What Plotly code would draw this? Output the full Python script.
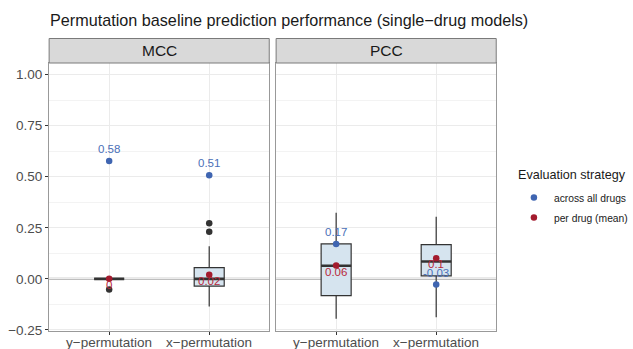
import plotly.graph_objects as go

# ---------------- data ----------------
metrics = ["MCC", "PCC"]
categories = ["y−permutation", "x−permutation"]
cat_pos = [1, 2]

# box statistics per metric (y-perm, x-perm)
box_q1 = {"MCC": [0.0, -0.035], "PCC": [-0.082, 0.015]}
box_median = {"MCC": [0.0, 0.0], "PCC": [0.064, 0.085]}
box_q3 = {"MCC": [0.0, 0.055], "PCC": [0.171, 0.168]}
box_lower = {"MCC": [0.0, -0.135], "PCC": [-0.195, -0.188]}
box_upper = {"MCC": [0.0, 0.16], "PCC": [0.324, 0.304]}

# outliers (category index, value)
outlier_cat = {"MCC": [1, 2, 2], "PCC": []}
outlier_val = {"MCC": [-0.052, 0.272, 0.231], "PCC": []}

# evaluation strategy points
across_vals = {"MCC": [0.576, 0.507], "PCC": [0.171, -0.028]}
across_labels = {"MCC": ["0.58", "0.51"], "PCC": ["0.17", "-0.03"]}
perdrug_vals = {"MCC": [0.0, 0.02], "PCC": [0.065, 0.101]}
perdrug_labels = {"MCC": ["0", "0.02"], "PCC": ["0.06", "0.1"]}

y_ticks = [-0.25, 0.0, 0.25, 0.5, 0.75, 1.0]
y_ticktext = ["−0.25", "0.00", "0.25", "0.50", "0.75", "1.00"]

# ---------------- style ----------------
W, H = 633, 349
FONT = "Liberation Sans, Arial, sans-serif"
BLUE = "#3f65b1"
RED = "#a31b2e"
BLUE_TXT = "#4a70b8"
RED_TXT = "#b8283a"
BOX_FILL = "#d6e4ef"
DARK = "#333333"
TICK_GREY = "#4d4d4d"

def px_x(p):
    return p / W

def px_y(p):
    return 1 - p / H

panels_x = [(50, 274), (281, 505)]
panel_top, panel_bot = 63, 331
strip_top = 38.5

fig = go.Figure()
box_half = 0.15

for k, m in enumerate(metrics):
    xa = "x" if k == 0 else "x2"
    ya = "y" if k == 0 else "y2"
    # zero reference line
    fig.add_shape(type="line", xref=xa + " domain", yref=ya, x0=0, x1=1, y0=0, y1=0,
                  line=dict(color="#a8a8a8", width=2), layer="below")
    fig.add_trace(go.Box(
        x=cat_pos, q1=box_q1[m], median=box_median[m], q3=box_q3[m],
        lowerfence=box_lower[m], upperfence=box_upper[m],
        width=0.3, whiskerwidth=0, boxpoints=False,
        fillcolor=BOX_FILL, line=dict(color=DARK, width=1.2),
        xaxis=xa, yaxis=ya, showlegend=False, hoverinfo="skip"))
    # thick median lines
    mx, my = [], []
    for i, v in enumerate(box_median[m]):
        mx += [cat_pos[i] - box_half, cat_pos[i] + box_half, None]
        my += [v, v, None]
    fig.add_trace(go.Scatter(x=mx, y=my, mode="lines",
                             line=dict(color=DARK, width=2.6),
                             xaxis=xa, yaxis=ya, showlegend=False, hoverinfo="skip"))
    if outlier_val[m]:
        fig.add_trace(go.Scatter(x=outlier_cat[m], y=outlier_val[m], mode="markers",
                                 marker=dict(color=DARK, size=6.5),
                                 xaxis=xa, yaxis=ya, showlegend=False, hoverinfo="skip"))
    fig.add_trace(go.Scatter(x=cat_pos, y=across_vals[m], mode="markers",
                             marker=dict(color=BLUE, size=6.5),
                             name="across all drugs", legendgroup="a",
                             showlegend=(k == 0), xaxis=xa, yaxis=ya))
    fig.add_trace(go.Scatter(x=cat_pos, y=perdrug_vals[m], mode="markers",
                             marker=dict(color=RED, size=6.5),
                             name="per drug (mean)", legendgroup="p",
                             showlegend=(k == 0), xaxis=xa, yaxis=ya))
    for i in range(len(cat_pos)):
        fig.add_annotation(x=cat_pos[i], y=across_vals[m][i], xref=xa, yref=ya,
                           text=across_labels[m][i], showarrow=False, yshift=12,
                           yanchor="middle",
                           font=dict(family=FONT, size=11.5, color=BLUE_TXT))
        fig.add_annotation(x=cat_pos[i], y=perdrug_vals[m][i], xref=xa, yref=ya,
                           text=perdrug_labels[m][i], showarrow=False, yshift=-6,
                           yanchor="middle",
                           font=dict(family=FONT, size=11.5, color=RED_TXT))
        # category tick label
        fig.add_annotation(x=cat_pos[i], y=px_y(333), xref=xa, yref="paper",
                           yanchor="top", text=categories[i], showarrow=False,
                           font=dict(family=FONT, size=13.5, color=TICK_GREY))
    # strip
    x0p, x1p = panels_x[k]
    fig.add_shape(type="rect", xref="paper", yref="paper",
                  x0=px_x(x0p), x1=px_x(x1p), y0=px_y(panel_top), y1=px_y(strip_top),
                  fillcolor="#d9d9d9", line=dict(color="#7a7a7a", width=1), layer="above")
    fig.add_annotation(xref="paper", yref="paper", x=px_x((x0p + x1p) / 2),
                       y=px_y((panel_top + strip_top) / 2), text=m, showarrow=False,
                       xanchor="center", yanchor="middle",
                       font=dict(family=FONT, size=15.5, color="#1a1a1a"))

axis_common = dict(
    range=[0.4, 2.6], tickvals=cat_pos, showticklabels=False, automargin=False,
    showgrid=True, gridcolor="#ebebeb", gridwidth=1, zeroline=False,
    showline=True, mirror=True, linecolor="#999999", linewidth=1.2,
    ticks="outside", ticklen=3, tickcolor=DARK,
)
yaxis_common = dict(
    range=[-0.255, 1.056], tickvals=y_ticks, ticktext=y_ticktext, automargin=False,
    showgrid=True, gridcolor="#ebebeb", gridwidth=1, zeroline=False,
    showline=True, mirror=True, linecolor="#999999", linewidth=1.2,
    minor=dict(tickvals=[-0.125, 0.125, 0.375, 0.625, 0.875], showgrid=True,
               gridcolor="#f3f3f3", gridwidth=0.6, ticks=""),
    domain=[px_y(panel_bot), px_y(panel_top)],
)

fig.update_layout(
    width=W, height=H, margin=dict(l=0, r=0, t=0, b=0),
    paper_bgcolor="white", plot_bgcolor="white",
    font=dict(family=FONT),
    xaxis=dict(axis_common, domain=[px_x(50), px_x(274)], anchor="y"),
    xaxis2=dict(axis_common, domain=[px_x(281), px_x(505)], anchor="y2"),
    yaxis=dict(yaxis_common, anchor="x", ticks="outside", ticklen=3, tickcolor=DARK,
               tickfont=dict(family=FONT, size=13.5, color=TICK_GREY)),
    yaxis2=dict(yaxis_common, anchor="x2", showticklabels=False, ticks="",
                matches="y"),
    legend=dict(x=px_x(523), y=px_y(183), xanchor="left", yanchor="top",
                font=dict(family=FONT, size=10.3, color="#1a1a1a"),
                itemwidth=30, tracegroupgap=1, bgcolor="rgba(0,0,0,0)"),
    showlegend=True,
)
fig.add_annotation(xref="paper", yref="paper", x=px_x(525), y=px_y(175),
                   xanchor="left", yanchor="middle", text="Evaluation strategy",
                   showarrow=False, font=dict(family=FONT, size=12.6, color="#1a1a1a"))
fig.add_annotation(xref="paper", yref="paper", x=px_x(49), y=px_y(20),
                   xanchor="left", yanchor="middle",
                   text="Permutation baseline prediction performance (single−drug models)",
                   showarrow=False, font=dict(family=FONT, size=16.2, color="#1a1a1a"))

fig.write_html("out.html")
